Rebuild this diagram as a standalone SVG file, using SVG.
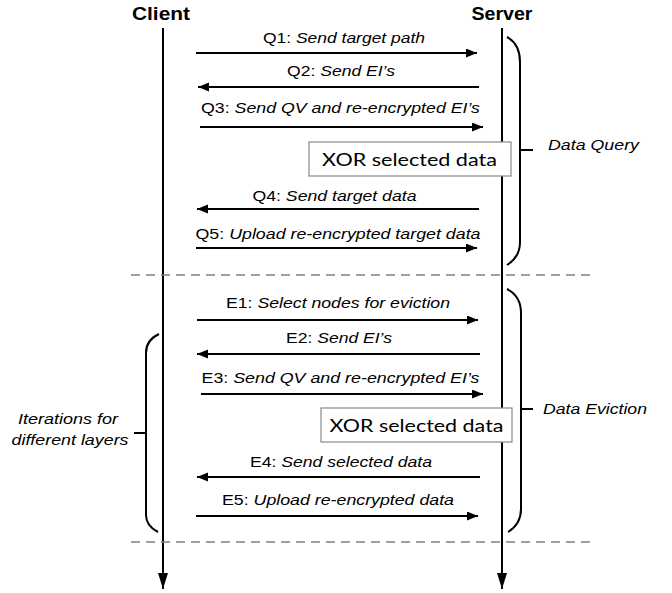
<svg xmlns="http://www.w3.org/2000/svg" width="672" height="593" viewBox="0 0 672 593">
  <style>
    .lbl { font-family: "Liberation Sans", Arial, sans-serif; font-size: 15.5px; fill: #000; }
    .it { font-style: italic; }
    .head { font-family: "Liberation Sans", Arial, sans-serif; font-size: 18px; font-weight: bold; fill: #000; }
    .xor { font-family: Lato, "Open Sans", sans-serif; font-size: 18px; fill: #000; }
    .life { stroke: #000; stroke-width: 2; fill: none; }
    .msg { stroke: #000; stroke-width: 2; fill: none; }
    .brace { stroke: #000; stroke-width: 2; fill: none; }
    .sep { stroke: #808080; stroke-width: 1.3; stroke-dasharray: 9 6; fill: none; }
    .box { fill: #fff; stroke: #8a8a8a; stroke-width: 1.2; }
  </style>
  <defs>
    <marker id="ah" markerUnits="userSpaceOnUse" markerWidth="12" markerHeight="10" refX="11" refY="4.5" orient="auto">
      <path d="M0,0 L11,4.5 L0,9 Z" fill="#000"/>
    </marker>
    <marker id="lifeHead" markerUnits="userSpaceOnUse" markerWidth="17" markerHeight="11" refX="16" refY="5" orient="auto">
      <path d="M0,0 L16,5 L0,10 Z" fill="#000"/>
    </marker>
  </defs>

  <!-- participants -->
  <g id="client">
    <text class="head" x="161" y="20" text-anchor="middle" textLength="58" lengthAdjust="spacingAndGlyphs">Client</text>
    <path class="life" d="M163,28 V589" marker-end="url(#lifeHead)"/>
  </g>
  <g id="server">
    <text class="head" x="502" y="20" text-anchor="middle" textLength="61" lengthAdjust="spacingAndGlyphs">Server</text>
    <path class="life" d="M502,28 V589" marker-end="url(#lifeHead)"/>
  </g>

  <!-- phase separators -->
  <g id="separators">
    <path class="sep" d="M131,275 H590"/>
    <path class="sep" d="M131,542 H590"/>
  </g>

  <!-- messages -->
  <g id="connectors">
    <path class="msg" d="M196,53 H477" marker-end="url(#ah)"/>
    <path class="msg" d="M479,87 H198" marker-end="url(#ah)"/>
    <path class="msg" d="M200,127 H483" marker-end="url(#ah)"/>
    <path class="msg" d="M479,209 H197" marker-end="url(#ah)"/>
    <path class="msg" d="M196,248 H477" marker-end="url(#ah)"/>

    <path class="msg" d="M197,320 H478" marker-end="url(#ah)"/>
    <path class="msg" d="M480,354 H197" marker-end="url(#ah)"/>
    <path class="msg" d="M201,394 H483" marker-end="url(#ah)"/>
    <path class="msg" d="M480,477 H197" marker-end="url(#ah)"/>
    <path class="msg" d="M196,516 H478" marker-end="url(#ah)"/>
  </g>

  <!-- message labels -->
  <g id="labels">
    <text class="lbl" x="344" y="43" text-anchor="middle" textLength="162" lengthAdjust="spacingAndGlyphs">Q1: <tspan class="it">Send target path</tspan></text>
    <text class="lbl" x="341" y="76" text-anchor="middle" textLength="108" lengthAdjust="spacingAndGlyphs">Q2: <tspan class="it">Send EI’s</tspan></text>
    <text class="lbl" x="340.5" y="113" text-anchor="middle" textLength="279" lengthAdjust="spacingAndGlyphs">Q3: <tspan class="it">Send QV and re-encrypted EI’s</tspan></text>
    <text class="lbl" x="334.5" y="201" text-anchor="middle" textLength="164" lengthAdjust="spacingAndGlyphs">Q4: <tspan class="it">Send target data</tspan></text>
    <text class="lbl" x="338" y="239" text-anchor="middle" textLength="285" lengthAdjust="spacingAndGlyphs">Q5: <tspan class="it">Upload re-encrypted target data</tspan></text>

    <text class="lbl" x="338" y="308" text-anchor="middle" textLength="224" lengthAdjust="spacingAndGlyphs">E1: <tspan class="it">Select nodes for eviction</tspan></text>
    <text class="lbl" x="339" y="343" text-anchor="middle" textLength="106" lengthAdjust="spacingAndGlyphs">E2: <tspan class="it">Send EI’s</tspan></text>
    <text class="lbl" x="340.5" y="383" text-anchor="middle" textLength="278" lengthAdjust="spacingAndGlyphs">E3: <tspan class="it">Send QV and re-encrypted EI’s</tspan></text>
    <text class="lbl" x="341" y="467" text-anchor="middle" textLength="182" lengthAdjust="spacingAndGlyphs">E4: <tspan class="it">Send selected data</tspan></text>
    <text class="lbl" x="338" y="505" text-anchor="middle" textLength="232" lengthAdjust="spacingAndGlyphs">E5: <tspan class="it">Upload re-encrypted data</tspan></text>
  </g>

  <!-- server-side processing steps -->
  <g id="xor-query">
    <rect class="box" x="309" y="142" width="202" height="34"/>
    <text class="xor" x="409.5" y="166" text-anchor="middle" textLength="175" lengthAdjust="spacingAndGlyphs">XOR selected data</text>
  </g>
  <g id="xor-eviction">
    <rect class="box" x="321" y="408" width="191" height="34"/>
    <text class="xor" x="416.5" y="432" text-anchor="middle" textLength="174" lengthAdjust="spacingAndGlyphs">XOR selected data</text>
  </g>

  <!-- phase braces -->
  <g id="data-query">
    <path class="brace" d="M507,37 Q520,44 520,62 L520,242 Q520,257 507,265"/>
    <path class="brace" d="M520,150 H533"/>
    <text class="lbl it" x="548" y="150" textLength="91" lengthAdjust="spacingAndGlyphs">Data Query</text>
  </g>
  <g id="data-eviction">
    <path class="brace" d="M507,289 Q521,296 521,313 L521,509 Q521,524 508,532"/>
    <path class="brace" d="M521,409 H533"/>
    <text class="lbl it" x="543" y="414" textLength="104" lengthAdjust="spacingAndGlyphs">Data Eviction</text>
  </g>
  <g id="layer-iterations">
    <path class="brace" d="M159,334 Q146,340 146,353 L146,515 Q146,526 158,532"/>
    <path class="brace" d="M134,433 H146"/>
    <text class="lbl it" x="68" y="424" text-anchor="middle" textLength="100" lengthAdjust="spacingAndGlyphs">Iterations for</text>
    <text class="lbl it" x="70" y="445" text-anchor="middle" textLength="117" lengthAdjust="spacingAndGlyphs">different layers</text>
  </g>
</svg>
